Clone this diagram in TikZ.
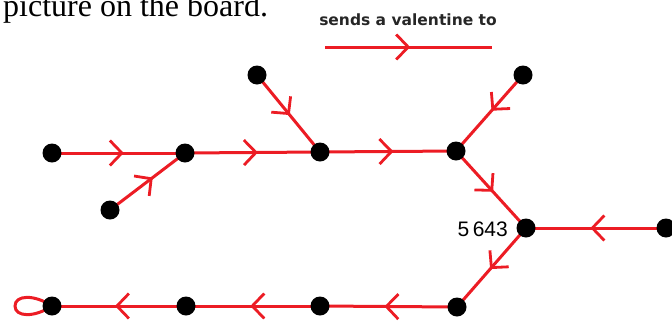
\documentclass[tikz,border=0pt]{standalone}
\usepackage{fontspec}
\setmainfont{Liberation Serif}
\newfontfamily\lblfont{Liberation Sans}
\newfontfamily\legfont{DejaVu Sans}
\usetikzlibrary{arrows.meta,decorations.markings}
\definecolor{vred}{RGB}{236,28,36}
\tikzset{
  dot/.style={circle,fill=black,inner sep=0pt,minimum size=19pt},
  edge/.style={draw=vred,line width=3pt},
  midarrow/.style={edge,postaction={decorate,decoration={markings,
     mark=at position #1 with {\arrow[vred,line width=2.8pt]{Straight Barb[length=12pt,width=25pt]}}}}},
  midarrow/.default=0.54
}
\begin{document}
\begin{tikzpicture}[x=1pt,y=-1pt]
\useasboundingbox (0,0) rectangle (672,322);
\begin{scope}
\clip (0,0) rectangle (672,322);
\node[anchor=base west,inner sep=0pt,font=\fontsize{32}{36}\selectfont] (title) at (3,16) {picture on the board.};
\end{scope}
% legend
\node[anchor=base,inner sep=0pt,font=\legfont\bfseries\fontsize{15.5}{18}\selectfont,text=black!85] (leg) at (408,25) {sends a valentine to};
\coordinate (l1) at (325,47);
\coordinate (l2) at (492,47);
\draw[midarrow=0.51] (l1) -- (l2);
% nodes
\coordinate (A) at (52,153);
\coordinate (B) at (185,153);
\coordinate (C) at (110,210);
\coordinate (D) at (257,75);
\coordinate (E) at (320,152);
\coordinate (F) at (456,151);
\coordinate (G) at (523,75);
\coordinate (H) at (526,228);
\coordinate (I) at (666,228);
\coordinate (J) at (457,307);
\coordinate (K) at (320,306);
\coordinate (L) at (186,306);
\coordinate (M) at (52,306);
% edges
\draw[midarrow] (A) -- (B);
\draw[midarrow=0.57] (C) -- (B);
\draw[midarrow] (B) -- (E);
\draw[midarrow=0.52] (D) -- (E);
\draw[midarrow] (E) -- (F);
\draw[midarrow=0.47] (G) -- (F);
\draw[midarrow=0.53] (F) -- (H);
\draw[midarrow] (I) -- (H);
\draw[midarrow=0.52] (H) -- (J);
\draw[midarrow=0.53] (J) -- (K);
\draw[midarrow=0.52] (K) -- (L);
\draw[midarrow=0.53] (L) -- (M);
\draw[edge] (M) .. controls (34,294) and (15,295) .. (15,306) .. controls (15,317) and (34,318) .. (M);
% dots
\foreach \n in {A,B,C,D,E,F,G,H,I,J,K,L,M}
  \node[dot] (d\n) at (\n) {};
\node[anchor=base east,inner sep=0pt,font=\lblfont\fontsize{21}{23}\selectfont] (lab) at (508,236) {5\,643};
\end{tikzpicture}
\end{document}
